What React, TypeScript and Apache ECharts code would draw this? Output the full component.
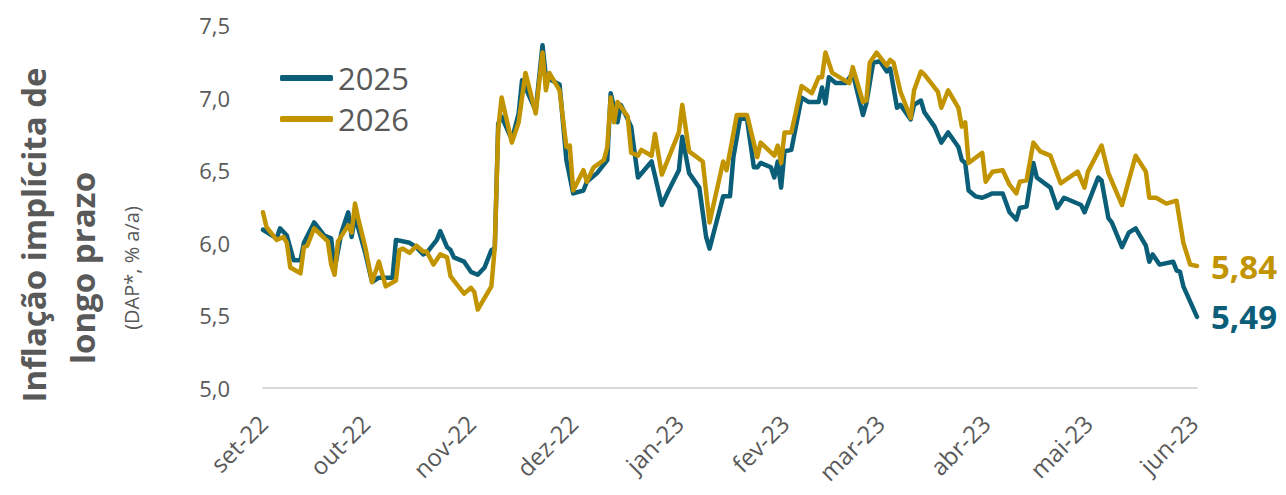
import React, { useEffect, useRef } from "react";
import * as echarts from "echarts";

const startDate = "2022-09-01";
const endDate = "2023-06-02";
const monthNames = ["jan", "fev", "mar", "abr", "mai", "jun", "jul", "ago", "set", "out", "nov", "dez"];
const yTicks = { min: 5.0, max: 7.5, interval: 0.5 };
const seriesNames = ["2025", "2026"];

const dates2025 = [
  "2022-09-01","2022-09-05","2022-09-06","2022-09-08","2022-09-10","2022-09-12","2022-09-13","2022-09-16","2022-09-19","2022-09-21",
  "2022-09-22","2022-09-24","2022-09-26","2022-09-27","2022-09-28","2022-10-01","2022-10-03","2022-10-05","2022-10-09","2022-10-10",
  "2022-10-14","2022-10-16","2022-10-18","2022-10-19","2022-10-22","2022-10-23","2022-10-25","2022-10-26","2022-10-27","2022-10-30",
  "2022-11-01","2022-11-03","2022-11-05","2022-11-07","2022-11-08","2022-11-09","2022-11-10","2022-11-13","2022-11-15","2022-11-16",
  "2022-11-20","2022-11-22","2022-11-23","2022-11-27","2022-11-29","2022-12-01","2022-12-04","2022-12-05","2022-12-08","2022-12-11",
  "2022-12-12","2022-12-14","2022-12-15","2022-12-18","2022-12-20","2022-12-24","2022-12-27","2022-12-29","2023-01-01","2023-01-02",
  "2023-01-04","2023-01-07","2023-01-09","2023-01-10","2023-01-12","2023-01-14","2023-01-16","2023-01-17","2023-01-19","2023-01-21",
  "2023-01-23","2023-01-24","2023-01-25","2023-01-28","2023-01-29","2023-01-30","2023-01-31","2023-02-01","2023-02-03","2023-02-06",
  "2023-02-08","2023-02-11","2023-02-12","2023-02-13","2023-02-14","2023-02-16","2023-02-19","2023-02-21","2023-02-24","2023-02-25",
  "2023-02-27","2023-03-01","2023-03-03","2023-03-04","2023-03-06","2023-03-07","2023-03-10","2023-03-11","2023-03-13","2023-03-14",
  "2023-03-17","2023-03-19","2023-03-21","2023-03-24","2023-03-25","2023-03-26","2023-03-27","2023-03-29","2023-03-31","2023-04-01",
  "2023-04-03","2023-04-06","2023-04-08","2023-04-10","2023-04-11","2023-04-13","2023-04-15","2023-04-16","2023-04-20","2023-04-22",
  "2023-04-24","2023-04-29","2023-04-30","2023-05-04","2023-05-05","2023-05-07","2023-05-08","2023-05-11","2023-05-13","2023-05-15",
  "2023-05-18","2023-05-19","2023-05-20","2023-05-22","2023-05-26","2023-05-27","2023-05-28","2023-05-29","2023-06-02",
];
const values2025 = [
  6.09, 6.03, 6.10, 6.05, 5.88, 5.88, 6.00, 6.14, 6.05, 6.03,
  5.82, 6.07, 6.21, 6.04, 6.18, 5.93, 5.73, 5.76, 5.76, 6.02,
  6.00, 5.97, 5.92, 5.93, 6.02, 6.08, 5.97, 5.95, 5.90, 5.87,
  5.80, 5.78, 5.83, 5.95, 5.96, 6.82, 6.87, 6.71, 6.89, 7.12,
  6.91, 7.36, 7.14, 7.09, 6.57, 6.34, 6.36, 6.42, 6.48, 6.57,
  7.03, 6.83, 6.95, 6.80, 6.45, 6.56, 6.26, 6.36, 6.50, 6.73,
  6.48, 6.38, 6.04, 5.96, 6.14, 6.32, 6.32, 6.59, 6.86, 6.85,
  6.52, 6.52, 6.55, 6.52, 6.45, 6.56, 6.38, 6.63, 6.64, 7.00,
  6.97, 6.97, 7.07, 6.96, 7.14, 7.10, 7.10, 7.17, 6.88, 6.96,
  7.24, 7.25, 7.18, 7.20, 6.93, 6.95, 6.85, 6.95, 6.98, 6.90,
  6.80, 6.69, 6.76, 6.66, 6.57, 6.55, 6.36, 6.32, 6.31, 6.32,
  6.34, 6.34, 6.21, 6.16, 6.24, 6.25, 6.55, 6.45, 6.38, 6.24,
  6.31, 6.26, 6.21, 6.45, 6.43, 6.17, 6.14, 5.97, 6.07, 6.10,
  5.98, 5.87, 5.92, 5.85, 5.87, 5.81, 5.80, 5.70, 5.49,
];

const dates2026 = [
  "2022-09-01","2022-09-02","2022-09-05","2022-09-07","2022-09-08","2022-09-09","2022-09-12","2022-09-13","2022-09-14","2022-09-16",
  "2022-09-20","2022-09-21","2022-09-22","2022-09-23","2022-09-26","2022-09-27","2022-09-28","2022-09-29","2022-10-01","2022-10-03",
  "2022-10-05","2022-10-07","2022-10-10","2022-10-11","2022-10-12","2022-10-14","2022-10-16","2022-10-18","2022-10-19","2022-10-21",
  "2022-10-23","2022-10-25","2022-10-26","2022-10-27","2022-10-30","2022-11-01","2022-11-02","2022-11-03","2022-11-07","2022-11-08",
  "2022-11-09","2022-11-10","2022-11-13","2022-11-15","2022-11-17","2022-11-20","2022-11-22","2022-11-23","2022-11-24","2022-11-27",
  "2022-11-29","2022-11-30","2022-12-01","2022-12-04","2022-12-05","2022-12-07","2022-12-10","2022-12-11","2022-12-12","2022-12-13",
  "2022-12-14","2022-12-17","2022-12-18","2022-12-20","2022-12-21","2022-12-24","2022-12-25","2022-12-27","2023-01-01","2023-01-02",
  "2023-01-04","2023-01-08","2023-01-10","2023-01-14","2023-01-15","2023-01-18","2023-01-21","2023-01-24","2023-01-25","2023-01-29",
  "2023-01-30","2023-01-31","2023-02-01","2023-02-03","2023-02-06","2023-02-09","2023-02-11","2023-02-12","2023-02-13","2023-02-15",
  "2023-02-20","2023-02-21","2023-02-24","2023-02-25","2023-02-26","2023-02-28","2023-03-02","2023-03-03","2023-03-04","2023-03-05",
  "2023-03-07","2023-03-10","2023-03-11","2023-03-13","2023-03-14","2023-03-18","2023-03-19","2023-03-21","2023-03-24","2023-03-25",
  "2023-03-26","2023-03-27","2023-03-31","2023-04-01","2023-04-03","2023-04-06","2023-04-08","2023-04-10","2023-04-11","2023-04-13",
  "2023-04-15","2023-04-17","2023-04-20","2023-04-23","2023-04-28","2023-04-30","2023-05-01","2023-05-05","2023-05-07","2023-05-11",
  "2023-05-15","2023-05-18","2023-05-19","2023-05-21","2023-05-24","2023-05-27","2023-05-29","2023-05-31","2023-06-02",
];
const values2026 = [
  6.21, 6.11, 6.02, 6.04, 6.00, 5.83, 5.79, 5.97, 5.98, 6.10,
  6.01, 5.85, 5.78, 6.01, 6.12, 6.07, 6.27, 6.16, 5.97, 5.73,
  5.87, 5.70, 5.74, 5.95, 5.96, 5.93, 5.98, 5.94, 5.94, 5.85,
  5.92, 5.90, 5.77, 5.74, 5.65, 5.69, 5.66, 5.54, 5.70, 5.97,
  6.78, 7.00, 6.69, 6.83, 7.17, 6.89, 7.31, 7.05, 7.17, 7.05,
  6.66, 6.67, 6.36, 6.50, 6.42, 6.52, 6.57, 6.66, 7.00, 6.83,
  6.97, 6.87, 6.62, 6.60, 6.64, 6.60, 6.75, 6.47, 6.76, 6.95,
  6.63, 6.56, 6.14, 6.56, 6.50, 6.88, 6.88, 6.59, 6.69, 6.60,
  6.67, 6.55, 6.76, 6.76, 7.08, 7.03, 7.14, 7.14, 7.31, 7.17,
  7.10, 7.21, 6.97, 6.98, 7.24, 7.31, 7.25, 7.22, 7.26, 7.24,
  7.04, 6.86, 7.05, 7.18, 7.16, 7.04, 6.93, 7.05, 6.93, 6.80,
  6.83, 6.55, 6.62, 6.42, 6.49, 6.50, 6.40, 6.34, 6.42, 6.43,
  6.69, 6.63, 6.60, 6.41, 6.49, 6.38, 6.49, 6.67, 6.48, 6.26,
  6.60, 6.49, 6.31, 6.31, 6.27, 6.29, 6.00, 5.85, 5.84,
];

const COLOR_2025 = "#0B5E78";
const COLOR_2026 = "#C29500";
const TEXT_GRAY = "#595959";
const FONT = "'Open Sans', 'Noto Sans', sans-serif";

function buildDays(start: string, end: string): string[] {
  const out: string[] = [];
  const d = new Date(start + "T00:00:00Z");
  const e = new Date(end + "T00:00:00Z");
  while (d.getTime() <= e.getTime()) {
    out.push(d.toISOString().slice(0, 10));
    d.setUTCDate(d.getUTCDate() + 1);
  }
  return out;
}

const fmtComma = (v: number, dec: number) => v.toFixed(dec).replace(".", ",");

export default function App() {
  const ref = useRef<HTMLDivElement>(null);

  useEffect(() => {
    if (!ref.current) return;
    const chart = echarts.init(ref.current, undefined, { renderer: "svg" });
    const days = buildDays(startDate, endDate);
    const s2025 = dates2025.map((d, i) => [d, values2025[i]]);
    const s2026 = dates2026.map((d, i) => [d, values2026[i]]);

    const endLabel = (color: string) => ({
      show: true,
      distance: 14,
      formatter: (p: any) => fmtComma(p.value[1], 2),
      color,
      fontSize: 33,
      fontWeight: "bold",
      fontFamily: FONT,
    });

    chart.setOption({
      animation: false,
      textStyle: { fontFamily: FONT },
      grid: { left: 263, right: 89, top: 25, bottom: 107, containLabel: false, outerBoundsMode: "none" },
      legend: {
        data: seriesNames,
        orient: "vertical",
        left: 280,
        top: 62,
        padding: 0,
        icon: "roundRect",
        itemWidth: 53,
        itemHeight: 6,
        itemGap: 9,
        textStyle: { fontSize: 31, color: TEXT_GRAY, fontFamily: FONT, lineHeight: 32 },
      },
      xAxis: {
        type: "category",
        data: days,
        boundaryGap: false,
        axisLine: { show: true, lineStyle: { color: "#D9D9D9", width: 2 } },
        axisTick: { show: false },
        splitLine: { show: false },
        axisLabel: {
          interval: (_idx: number, val: string) => val.slice(8) === "01",
          rotate: 45,
          margin: 31,
          fontSize: 24,
          color: TEXT_GRAY,
          fontFamily: FONT,
          formatter: (val: string) => {
            const m = parseInt(val.slice(5, 7), 10);
            return monthNames[m - 1] + "-" + val.slice(2, 4);
          },
        },
      },
      yAxis: {
        type: "value",
        min: yTicks.min,
        max: yTicks.max,
        interval: yTicks.interval,
        axisLine: { show: false },
        axisTick: { show: false },
        splitLine: { show: false },
        axisLabel: {
          margin: 33,
          fontSize: 22,
          color: TEXT_GRAY,
          fontFamily: FONT,
          formatter: (v: number) => fmtComma(v, 1),
        },
      },
      graphic: [
        {
          type: "text",
          x: 33,
          y: 235,
          rotation: Math.PI / 2,
          style: {
            text: "Inflação implícita de",
            fontSize: 33,
            fontWeight: "bold",
            fontFamily: FONT,
            fill: TEXT_GRAY,
            textAlign: "center",
            textVerticalAlign: "middle",
          },
        },
        {
          type: "text",
          x: 82,
          y: 268,
          rotation: Math.PI / 2,
          style: {
            text: "longo prazo",
            fontSize: 33,
            fontWeight: "bold",
            fontFamily: FONT,
            fill: TEXT_GRAY,
            textAlign: "center",
            textVerticalAlign: "middle",
          },
        },
        {
          type: "text",
          x: 131,
          y: 268,
          rotation: Math.PI / 2,
          style: {
            text: "(DAP*, % a/a)",
            fontSize: 20,
            fontFamily: FONT,
            fill: TEXT_GRAY,
            textAlign: "center",
            textVerticalAlign: "middle",
          },
        },
      ],
      series: [
        {
          name: "2025",
          type: "line",
          data: s2025,
          symbol: "none",
          color: COLOR_2025,
          lineStyle: { width: 4.5, color: COLOR_2025, join: "round", cap: "round" },
          endLabel: endLabel(COLOR_2025),
        },
        {
          name: "2026",
          type: "line",
          data: s2026,
          symbol: "none",
          color: COLOR_2026,
          lineStyle: { width: 4.5, color: COLOR_2026, join: "round", cap: "round" },
          endLabel: endLabel(COLOR_2026),
        },
      ],
    });

    return () => chart.dispose();
  }, []);

  return (
    <div
      ref={ref}
      style={{ position: "fixed", left: 0, top: 0, width: 1286, height: 495, background: "#fff" }}
    />
  );
}
